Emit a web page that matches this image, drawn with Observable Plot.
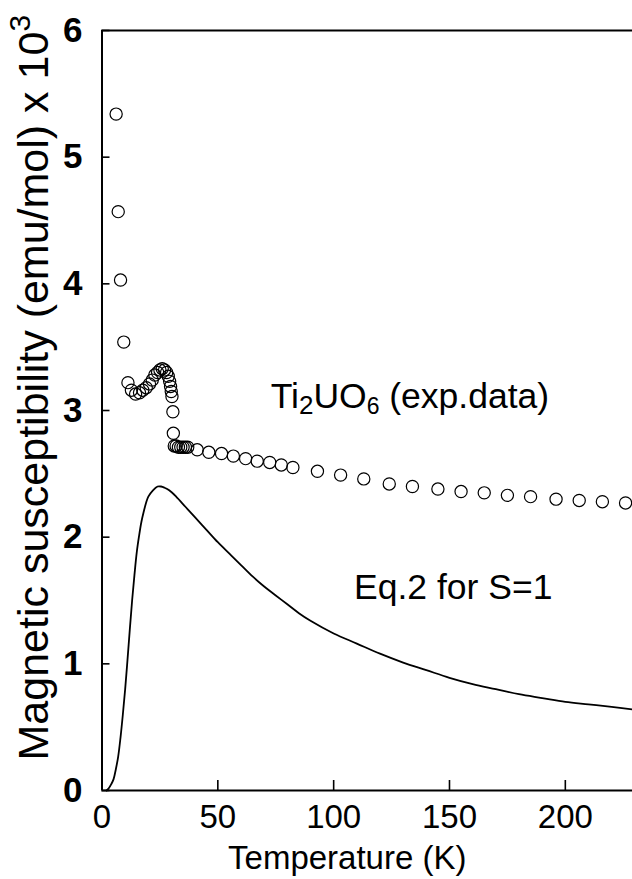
<!DOCTYPE html>
<html><head><meta charset="utf-8">
<script src="https://cdn.jsdelivr.net/npm/d3@7"></script>
<script src="https://cdn.jsdelivr.net/npm/@observablehq/plot@0.6"></script>
<style>body{margin:0;background:#fff} svg{display:block}</style>
</head><body><div id="chart"></div>
<script>
// Experimental data (open circles): temperature (K) and susceptibility (x10^3 emu/mol)
const expT = [6.1, 7.0, 8.0, 9.4, 11.2, 12.7, 14.5, 16.2, 17.6, 19.1, 20.5, 21.7, 22.8, 24.0, 25.0, 26.0, 27.0, 27.9, 28.6, 29.2, 29.6, 29.9, 30.2, 30.6, 30.8, 31.2, 32.0, 33.0, 34.0, 35.0, 36.0, 37.0, 41.1, 46.1, 51.6, 56.7, 62.0, 67.0, 72.4, 77.4, 82.4, 93, 103, 113, 124, 134, 145, 155, 165, 175, 185, 196, 206, 216, 226];
const expChi = [5.34, 4.57, 4.03, 3.54, 3.22, 3.16, 3.13, 3.14, 3.16, 3.18, 3.21, 3.24, 3.28, 3.30, 3.32, 3.33, 3.32, 3.30, 3.27, 3.23, 3.19, 3.15, 3.11, 2.99, 2.82, 2.72, 2.72, 2.71, 2.71, 2.71, 2.71, 2.71, 2.69, 2.67, 2.66, 2.64, 2.62, 2.60, 2.59, 2.57, 2.55, 2.52, 2.49, 2.46, 2.42, 2.40, 2.38, 2.36, 2.35, 2.33, 2.32, 2.30, 2.29, 2.28, 2.27];
// Calculated curve (Eq.2 for S=1)
const calcT = [2, 3, 4, 5, 6, 7, 8, 9, 10, 11, 12, 13, 14, 15, 16, 17, 18, 19, 20, 22, 24, 25.5, 27, 29, 32, 36, 40, 45, 50, 55, 60, 65, 70, 75, 80, 85, 90, 100, 110, 120, 130, 140, 150, 160, 170, 180, 190, 200, 210, 220, 229];
const calcChi = [0, 0.02, 0.05, 0.09, 0.17, 0.27, 0.42, 0.60, 0.80, 1.03, 1.27, 1.50, 1.70, 1.88, 2.01, 2.12, 2.20, 2.27, 2.32, 2.37, 2.40, 2.40, 2.39, 2.37, 2.32, 2.24, 2.16, 2.06, 1.96, 1.87, 1.78, 1.69, 1.61, 1.54, 1.47, 1.40, 1.34, 1.24, 1.16, 1.08, 1.01, 0.95, 0.89, 0.84, 0.80, 0.76, 0.73, 0.70, 0.68, 0.66, 0.64];
const xTicks = [0, 50, 100, 150, 200];
const yTicks = [0, 1, 2, 3, 4, 5, 6];
const xLabel = "Temperature (K)";
const yLabel = "Magnetic susceptibility (emu/mol) x 10";
const yLabelSup = "3";
const annotations = [
  {key: "exp", text: "Ti2UO6 (exp.data)", T: 72.8, chi: 3.11},
  {key: "eq", text: "Eq.2 for S=1", T: 108.8, chi: 1.60}
];

const exp = expT.map((t, i) => ({T: t, chi: expChi[i]}));
const calc = calcT.map((t, i) => ({T: t, chi: calcChi[i]}));
const font = "Liberation Sans, Arial, Helvetica, sans-serif";

const plot = Plot.plot({
  width: 632, height: 879,
  marginLeft: 101.5, marginRight: 0, marginTop: 30, marginBottom: 89,
  x: {domain: [0, 229]},
  y: {domain: [0, 6]},
  style: {fontFamily: font, color: "#000", background: "#fff"},
  marks: [
    Plot.axisX(xTicks, {tickSize: -10, tickPadding: 24, fontSize: 33, strokeWidth: 1.6, tickFormat: d => String(d), label: null}),
    Plot.axisY(yTicks, {tickSize: -8, tickPadding: 27.5, fontSize: 35, fontWeight: "bold", strokeWidth: 1.6, tickFormat: d => String(d), label: null}),
    Plot.ruleX([0], {strokeWidth: 2}),
    Plot.ruleY([0, 6], {strokeWidth: 2}),
    Plot.line(calc, {x: "T", y: "chi", strokeWidth: 1.8, curve: "catmull-rom"}),
    Plot.dot(exp, {x: "T", y: "chi", r: 6.1, stroke: "#000", strokeWidth: 1.2, fill: "none"}),
    Plot.text(annotations, {x: "T", y: "chi", text: "text", textAnchor: "start", fontSize: 35.5, className: "annot"}),
    Plot.text([xLabel], {frameAnchor: "bottom", dx: -20, dy: 78, fontSize: 33}),
    Plot.text([yLabel], {frameAnchor: "bottom-left", rotate: -90, textAnchor: "start", dx: -54, dy: -30, fontSize: 43, className: "ylab"})
  ]
});
document.getElementById("chart").appendChild(plot);

// Sub/superscripts
const svg = d3.select(plot);
svg.selectAll("g.annot text").each(function() {
  const t = d3.select(this);
  if (t.text().startsWith("Ti2UO6")) {
    t.text(null);
    t.append("tspan").text("Ti");
    t.append("tspan").attr("font-size", 26).attr("dy", 6).text("2");
    t.append("tspan").attr("dy", -6).text("UO");
    t.append("tspan").attr("font-size", 23).attr("dy", 6).text("6");
    t.append("tspan").attr("dy", -6).text(" (exp.data)");
  }
});
svg.select("g.ylab text").append("tspan").attr("font-size", 30).attr("dy", -18).text(yLabelSup);
</script>
</body></html>
